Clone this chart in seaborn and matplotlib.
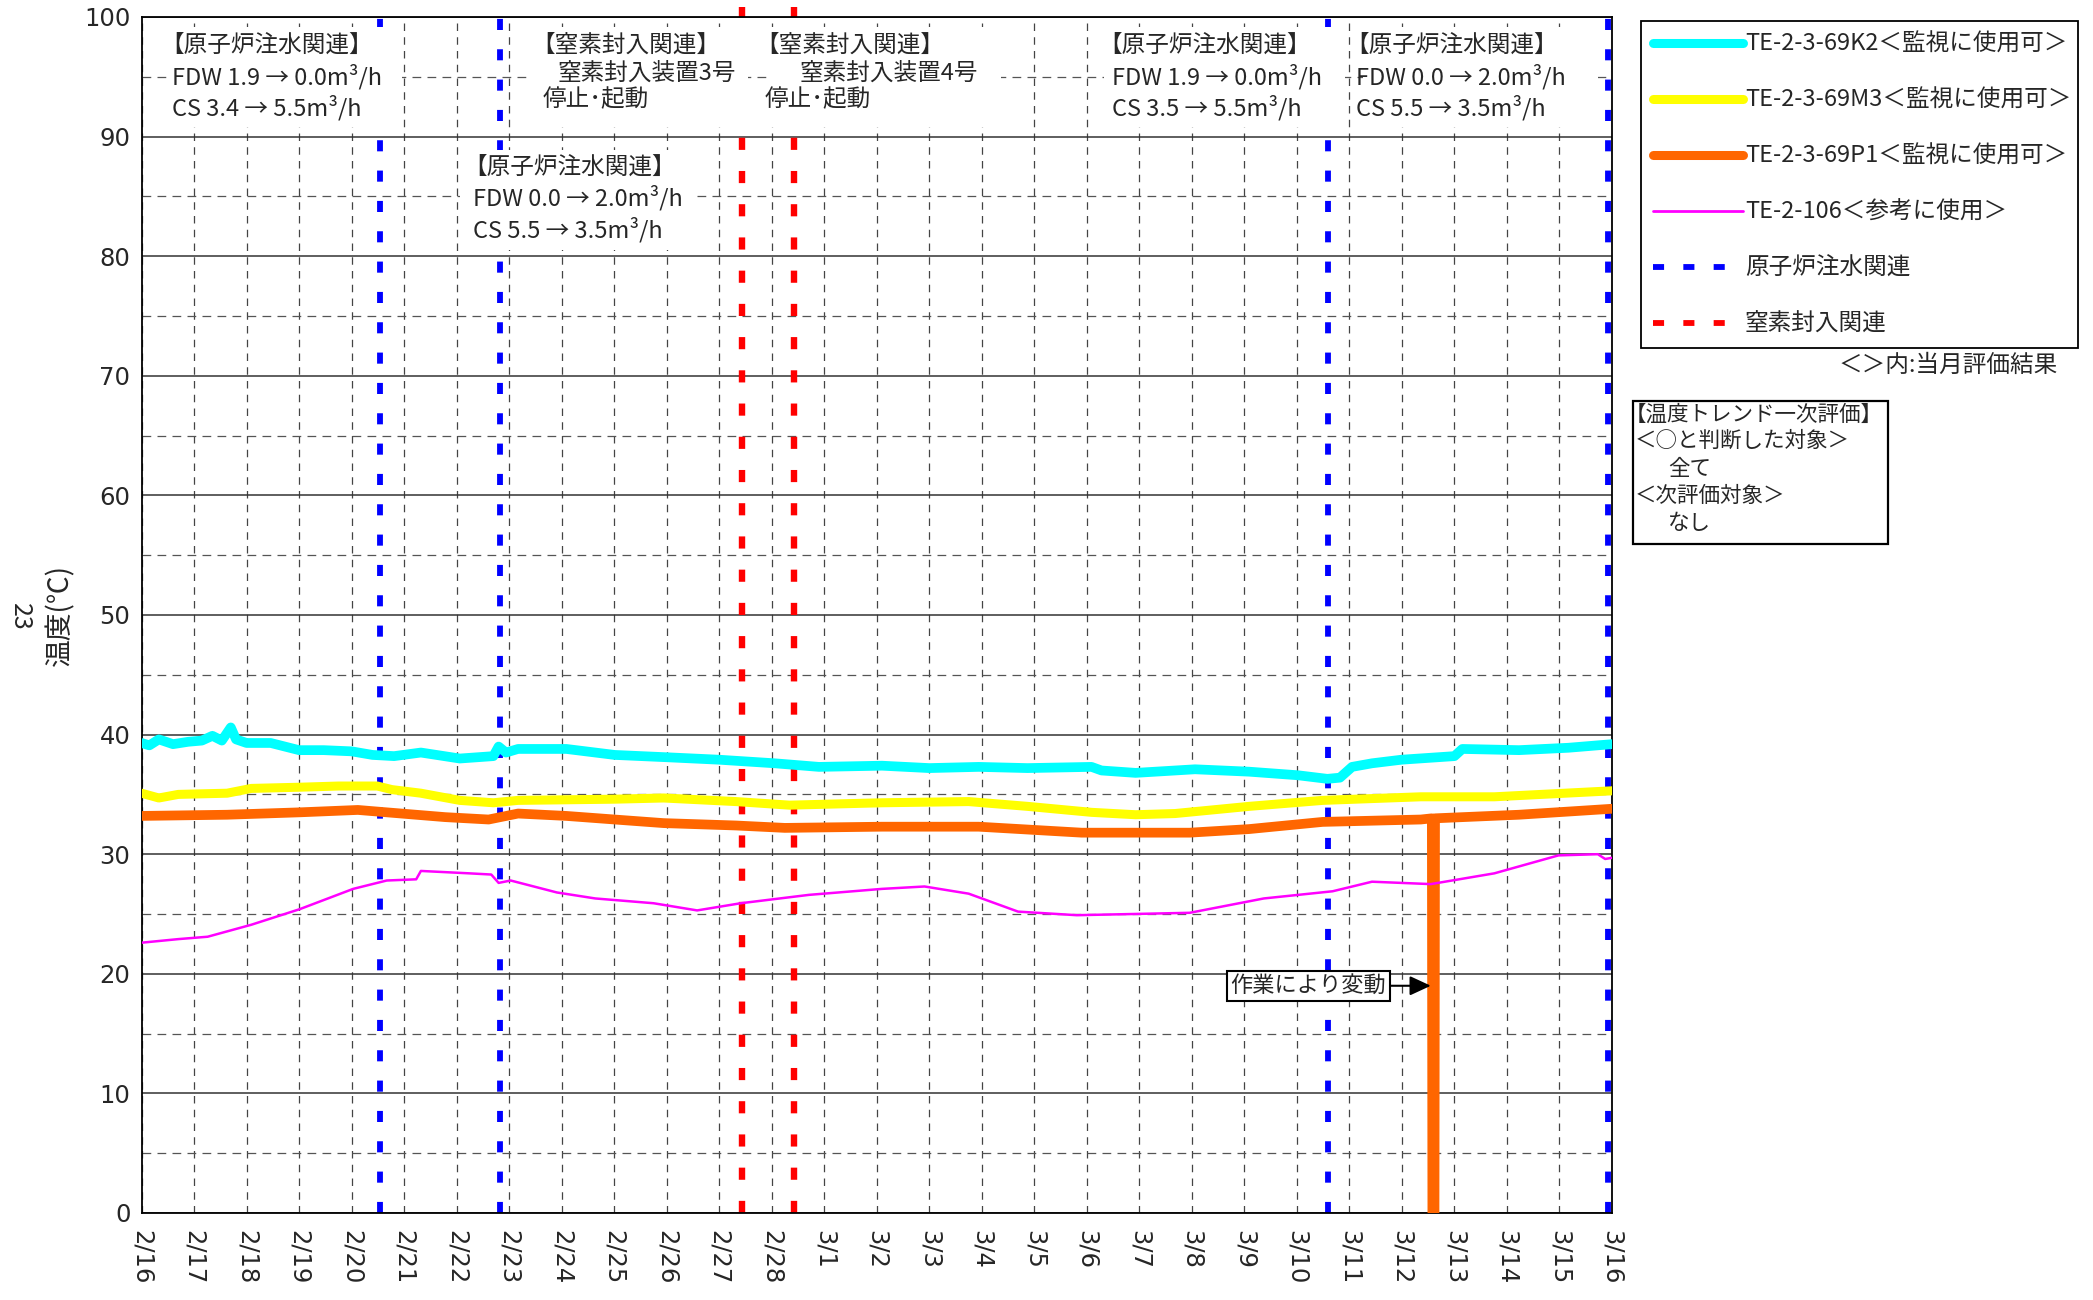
import seaborn as sns
import matplotlib.pyplot as plt
from matplotlib.lines import Line2D
from matplotlib.patches import Rectangle
from matplotlib.ticker import MultipleLocator

# x axis: days counted from 2/16
date_labels = ["2/16", "2/17", "2/18", "2/19", "2/20", "2/21", "2/22", "2/23",
               "2/24", "2/25", "2/26", "2/27", "2/28", "3/1", "3/2", "3/3",
               "3/4", "3/5", "3/6", "3/7", "3/8", "3/9", "3/10", "3/11",
               "3/12", "3/13", "3/14", "3/15", "3/16"]

k2_day = [0, 0.15, 0.33, 0.6, 0.89, 1.15, 1.35, 1.53, 1.70, 1.8, 2.0, 2.46, 3.0,
          3.47, 4.0, 4.4, 4.81, 5.32, 6.06, 6.7, 6.8, 6.94, 7.17, 8.09, 9.01,
          10.03, 11.0, 12.06, 12.9, 14.1, 15.0, 15.94, 16.87, 18.09, 18.28,
          18.93, 20.06, 21.09, 22.02, 22.58, 22.82, 23.05, 23.43, 23.99, 25.0,
          25.15, 26.23, 27.17, 28.0]
k2_temp = [39.3, 39.1, 39.6, 39.2, 39.4, 39.5, 39.9, 39.5, 40.6, 39.6, 39.3,
           39.3, 38.7, 38.7, 38.6, 38.3, 38.2, 38.5, 38.0, 38.2, 39.0, 38.5,
           38.8, 38.8, 38.3, 38.1, 37.9, 37.6, 37.3, 37.4, 37.2, 37.3, 37.2,
           37.3, 37.0, 36.8, 37.1, 36.9, 36.6, 36.3, 36.4, 37.3, 37.6, 37.9,
           38.2, 38.8, 38.7, 38.9, 39.2]

m3_day = [0, 0.33, 0.7, 1.63, 2.09, 3.01, 3.75, 4.49, 4.77, 5.32, 6.06, 6.7,
          7.17, 9.01, 9.94, 11.32, 12.34, 14.1, 15.75, 16.87, 18.09, 18.93,
          19.68, 21.09, 22.49, 24.36, 25.76, 28.0]
m3_temp = [35.1, 34.7, 35.0, 35.1, 35.5, 35.6, 35.7, 35.7, 35.4, 35.1, 34.5,
           34.3, 34.5, 34.6, 34.7, 34.4, 34.1, 34.3, 34.4, 34.0, 33.5, 33.3,
           33.4, 34.0, 34.5, 34.8, 34.8, 35.3]

p1_day = [0, 1.63, 3.01, 4.12, 4.67, 5.78, 6.61, 7.17, 8.09, 9.01, 9.94, 11.32,
          12.25, 14.1, 15.94, 17.9, 19.96, 21.09, 22.49, 24.36, 24.57, 24.58,
          24.62, 24.63, 26.23, 28.0]
p1_temp = [33.2, 33.3, 33.5, 33.7, 33.5, 33.1, 32.9, 33.4, 33.2, 32.9, 32.6,
           32.4, 32.2, 32.3, 32.3, 31.8, 31.8, 32.1, 32.7, 32.9, 33.0, 0.0,
           0.0, 33.0, 33.3, 33.8]

r106_day = [0, 0.7, 1.26, 2.09, 3.01, 4.03, 4.67, 5.23, 5.32, 6.24, 6.66, 6.8,
            7.03, 7.91, 8.64, 9.75, 10.58, 11.41, 12.71, 14.1, 14.91, 15.75,
            16.69, 17.81, 19.96, 21.37, 22.68, 23.43, 24.55, 25.76, 26.98,
            27.73, 27.87, 28.0]
r106_temp = [22.6, 22.9, 23.1, 24.1, 25.4, 27.1, 27.8, 27.9, 28.6, 28.4, 28.3,
             27.6, 27.8, 26.8, 26.3, 25.9, 25.3, 25.9, 26.6, 27.1, 27.3, 26.7,
             25.2, 24.9, 25.1, 26.3, 26.9, 27.7, 27.5, 28.4, 29.9, 30.0, 29.6,
             29.7]

water_days = [4.54, 6.82, 22.60, 27.93]
n2_days = [11.43, 12.43]

series_labels = ["TE-2-3-69K2＜監視に使用可＞", "TE-2-3-69M3＜監視に使用可＞",
                 "TE-2-3-69P1＜監視に使用可＞", "TE-2-106＜参考に使用＞",
                 "原子炉注水関連", "窒素封入関連"]

sns.set_style("white")
plt.rcParams["font.family"] = ["Noto Sans CJK JP", "DejaVu Sans"]

W, H = 2093, 1300
fig = plt.figure(figsize=(W / 100, H / 100), dpi=100)
ax = fig.add_axes([141.5 / W, 1 - 1213 / H, (1612 - 141.5) / W, (1213 - 17) / H])


def fx(x, y):
    return x / W, 1 - y / H


CYAN, YELLOW, ORANGE, MAGENTA = "#00FFFF", "#FFFF00", "#FF6600", "#FF00FF"
EVENT_DASH = (0, (1.9, 3.3))

# grid
ax.set_xlim(0, 28)
ax.set_ylim(0, 100)
ax.set_xticks(range(len(date_labels)))
ax.set_xticklabels(date_labels, rotation=-90, fontfamily="DejaVu Sans", fontsize=17.5)
ax.yaxis.set_major_locator(MultipleLocator(10))
ax.yaxis.set_minor_locator(MultipleLocator(5))
for lab in ax.get_yticklabels():
    lab.set_fontfamily("DejaVu Sans")
    lab.set_fontsize(17.5)
ax.tick_params(axis="x", length=0, pad=12)
ax.tick_params(axis="y", which="both", length=0, pad=8)
ax.set_axisbelow(True)
ax.grid(axis="x", which="major", color="#444444", lw=0.9, ls=(0, (6, 5)))
ax.grid(axis="y", which="major", color="#333333", lw=1.1, ls="-")
ax.grid(axis="y", which="minor", color="#555555", lw=0.9, ls=(0, (7, 5)))
for sp in ax.spines.values():
    sp.set_color("black")
    sp.set_linewidth(1.3)

# event lines
for d in water_days:
    ax.axvline(d, ymin=0, ymax=1.008, color="#0000FF", lw=4.2, ls=EVENT_DASH,
               clip_on=False, zorder=2)
for d in n2_days:
    ax.axvline(d, ymin=0, ymax=1.008, color="#FF0000", lw=4.6, ls=EVENT_DASH,
               clip_on=False, zorder=2)

# temperature series
common = dict(ax=ax, estimator=None, sort=False, legend=False,
              solid_capstyle="round", solid_joinstyle="round", zorder=4)
sns.lineplot(x=k2_day, y=k2_temp, color=CYAN, lw=7, **common)
sns.lineplot(x=m3_day, y=m3_temp, color=YELLOW, lw=6.5, **common)
sns.lineplot(x=p1_day, y=p1_temp, color=ORANGE, lw=7, **common)
sns.lineplot(x=r106_day, y=r106_temp, color=MAGENTA, lw=1.8, **common)
ax.set_xlabel("")
ax.set_ylabel("")

# white text boxes at the top of the plot (cover grid and event lines)
boxes = [(170, 27, 402, 127), (532, 27, 748, 127), (771, 27, 1001, 127),
         (1104, 27, 1345, 127), (1363, 27, 1598, 127), (460, 150, 697, 250)]
for x0, y0, x1, y1 in boxes:
    fig.add_artist(Rectangle(fx(x0, y1), (x1 - x0) / W, (y1 - y0) / H,
                             transform=fig.transFigure, fc="white", ec="none",
                             zorder=1))

notes = [
    ("【原子炉注水関連】", 160, 45), ("FDW 1.9 → 0.0m³/h", 172, 77), ("CS 3.4 → 5.5m³/h", 172, 108),
    ("【窒素封入関連】", 531, 45), ("窒素封入装置3号", 558, 73), ("停止･起動", 543, 100),
    ("【窒素封入関連】", 755, 45), ("窒素封入装置4号", 800, 73), ("停止･起動", 765, 100),
    ("【原子炉注水関連】", 1098, 45), ("FDW 1.9 → 0.0m³/h", 1112, 77), ("CS 3.5 → 5.5m³/h", 1112, 108),
    ("【原子炉注水関連】", 1345, 45), ("FDW 0.0 → 2.0m³/h", 1356, 77), ("CS 5.5 → 3.5m³/h", 1356, 108),
    ("【原子炉注水関連】", 463, 167), ("FDW 0.0 → 2.0m³/h", 473, 198), ("CS 5.5 → 3.5m³/h", 473, 230),
]
for s, x, y in notes:
    fig.text(*fx(x, y), s, ha="left", va="center", fontsize=17, zorder=3)

ax.annotate("作業により変動", xy=(24.55, 19.0), xytext=(22.22, 19.0),
            ha="center", va="center", fontsize=16, zorder=6,
            bbox=dict(boxstyle="square,pad=0.15", fc="white", ec="black", lw=1.5),
            arrowprops=dict(arrowstyle="-|>,head_length=0.8,head_width=0.37",
                            color="black", lw=1.5, shrinkA=0, shrinkB=0))

# axis labels
fig.text(*fx(60, 615), "温度(℃)", rotation=90, ha="center", va="center", fontsize=20)
fig.text(*fx(20, 617), "23", rotation=270, ha="center", va="center", fontsize=18)

# legend
handles = [
    Line2D([], [], color=CYAN, lw=6.5, solid_capstyle="round"),
    Line2D([], [], color=YELLOW, lw=6.5, solid_capstyle="round"),
    Line2D([], [], color=ORANGE, lw=6.5, solid_capstyle="round"),
    Line2D([], [], color=MAGENTA, lw=2),
    Line2D([], [], color="#0000FF", lw=4.2, ls=EVENT_DASH),
    Line2D([], [], color="#FF0000", lw=4.2, ls=EVENT_DASH),
]
leg = fig.legend(handles, series_labels, loc="upper left",
                 bbox_to_anchor=(1641 / W, 1 - 346 / H, (2078 - 1641) / W, (346 - 21) / H),
                 mode="expand", borderaxespad=0, fontsize=17, handlelength=3.8,
                 handletextpad=0.1, labelspacing=1.4, borderpad=0.5,
                 fancybox=False, framealpha=1, edgecolor="black")
leg.get_frame().set_linewidth(1.3)

fig.text(*fx(2058, 365), "＜＞内:当月評価結果", ha="right", va="center", fontsize=17)

# evaluation box
fig.add_artist(Rectangle(fx(1633, 544), (1888 - 1633) / W, (544 - 401) / H,
                         transform=fig.transFigure, fc="white", ec="black", lw=1.6))
eval_lines = [("【温度トレンド一次評価】", 1625, 415), ("＜○と判断した対象＞", 1635, 441),
              ("全て", 1668, 469), ("＜次評価対象＞", 1635, 496), ("なし", 1668, 523)]
for s, x, y in eval_lines:
    fig.text(*fx(x, y), s, ha="left", va="center", fontsize=15.5, zorder=3)

fig.savefig("out.png", dpi=100)
